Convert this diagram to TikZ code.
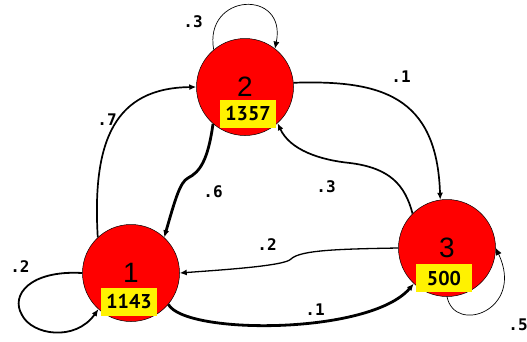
\documentclass[tikz,border=0pt]{standalone}
\usepackage{fontspec}
\setmainfont{Liberation Sans}
\newfontfamily\probfont{DejaVu Sans Mono}
\newfontfamily\countfont{PT Sans}
\usetikzlibrary{arrows.meta}

\tikzset{
  state/.style={circle,draw=black,line width=0.5pt,fill=red,minimum size=97pt,inner sep=0pt,font=\fontsize{28}{28}\selectfont},
  count/.style={fill=yellow,minimum width=56pt,minimum height=28pt,inner sep=0pt,font=\countfont\bfseries\fontsize{20}{20}\selectfont},
  prob/.style={font=\probfont\bfseries\fontsize{16}{16}\selectfont},
  >={Latex[length=7pt,width=6pt]}
}

\begin{document}
\begin{tikzpicture}[x=1pt,y=-1pt]
\useasboundingbox (0,0) rectangle (527,341);

\node[state] (n1) at (131,273) {1};
\node[state] (n2) at (245,87) {2};
\node[state] (n3) at (447,248) {3};

\node[count] (c1) at (129,302) {1143};
\node[count] (c2) at (248,114) {1357};
\node[count] (c3) at (444,278) {500};

% loops
\draw[->,line width=0.7pt] (n2.130) .. controls +(-10,-57) and +(12,-60) .. (n2.52);
\draw[->,line width=1.8pt] (n1.180) .. controls (30,270) and (10,295) .. (22,315) .. controls (32,335) and (75,342) .. (n1.-132);
\draw[->,line width=0.7pt] (n3.-90) .. controls (455,335) and (525,310) .. (n3.0);

% transitions
\draw[->,line width=1.7pt] (n2.5) .. controls (380,80) and (437,95) .. (n3.98);
\draw[->,line width=1.7pt] (n1.133) .. controls (92,140) and (115,88) .. (n2.180);
\draw[->,line width=2.8pt] (n2.-131) .. controls (208,160) and (200,172) .. (188,178) .. controls (180,182) and (175,200) .. (n1.47);
\draw[->,line width=1.7pt] (n3.135) .. controls (405,185) and (390,168) .. (350,163) .. controls (320,160) and (290,150) .. (n2.-48);
\draw[->,line width=1.3pt] (n3.180) .. controls (340,249) and (300,250) .. (291,259) .. controls (285,266) and (220,270) .. (n1.0);
\draw[->,line width=2.8pt] (n1.-40) .. controls (185,335) and (370,335) .. (n3.-133);

\node[prob] (p22) at (193,22) {.3};
\node[prob] (p23) at (401,77) {.1};
\node[prob] (p12) at (107,120) {.7};
\node[prob] (p21) at (213,192) {.6};
\node[prob] (p32) at (326,187) {.3};
\node[prob] (p31) at (267,245) {.2};
\node[prob] (p13) at (315,310) {.1};
\node[prob] (p11) at (20,267) {.2};
\node[prob] (p33) at (518,325) {.5};
\end{tikzpicture}
\end{document}
